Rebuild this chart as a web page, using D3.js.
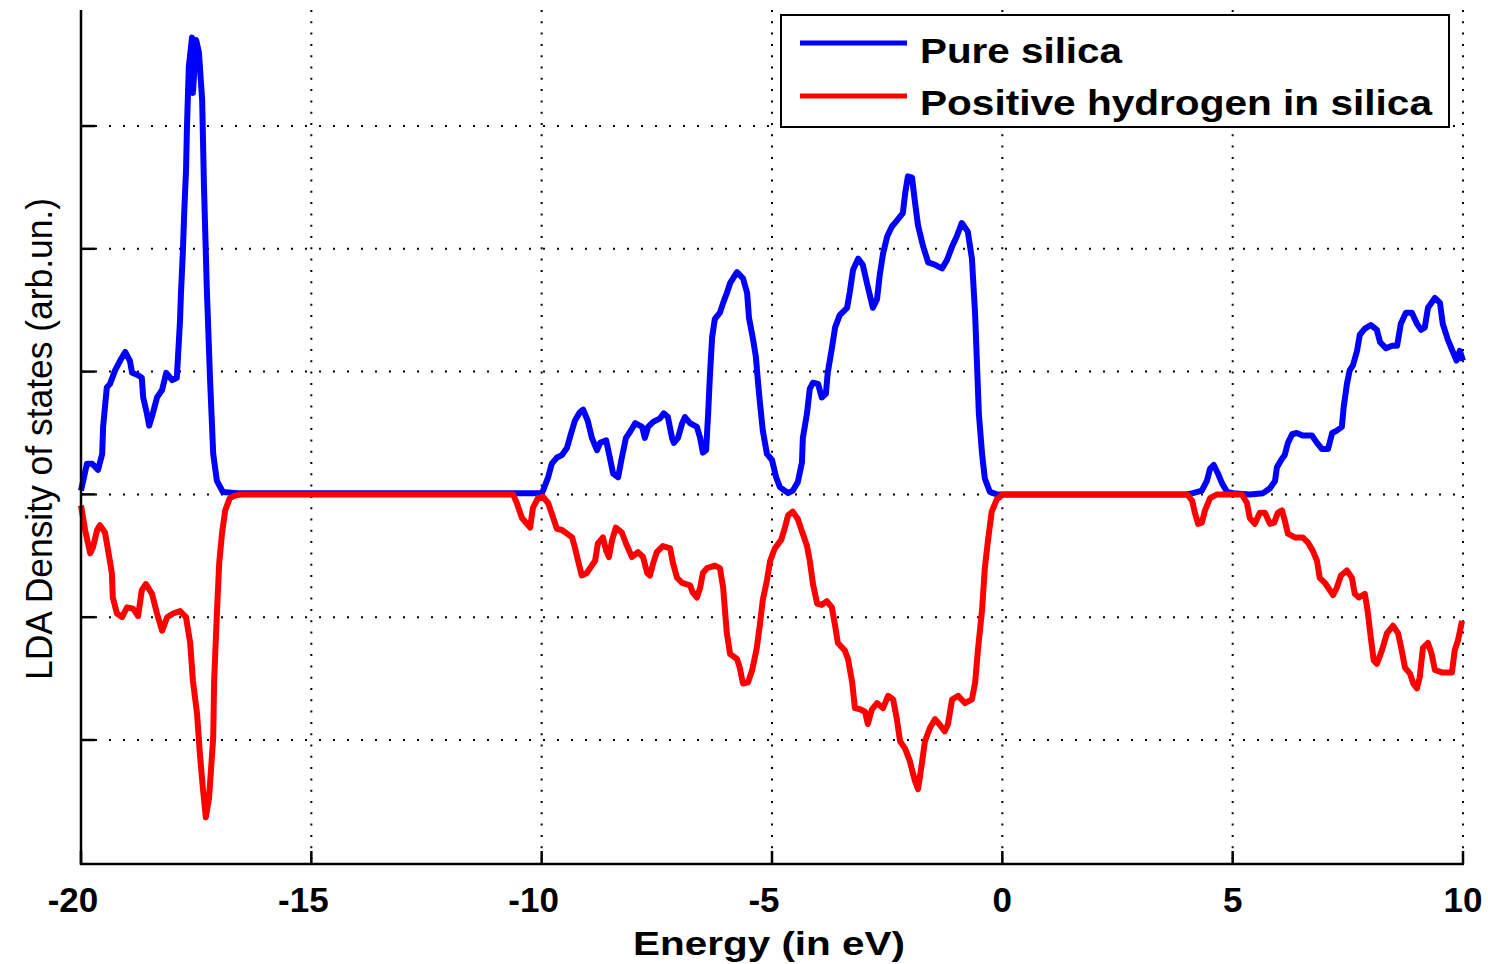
<!DOCTYPE html>
<html>
<head>
<meta charset="utf-8">
<script src="https://cdn.jsdelivr.net/npm/d3@7"></script>
<style>
  html, body { margin: 0; padding: 0; background: #fff; overflow: hidden; }
  text { font-family: "Liberation Sans", Arial, Helvetica, sans-serif; }
</style>
</head>
<body>
<svg id="chart" width="1488" height="964"></svg>
<script>
// Axis ticks / grid positions
const energyTicks = [-20, -15, -10, -5, 0, 5, 10];
const dosGrid = [-2, -1, 0, 1, 2, 3];

// Series labels and colours
const seriesNames = ["Pure silica", "Positive hydrogen in silica"];
const seriesColors = ["#0000ff", "#ff0000"];

// Density of states, pure silica: [energy (eV), DOS (arb. units)]
const pureSilica = [
  [-20.00,0.03],[-19.87,0.25],[-19.76,0.25],[-19.63,0.20],[-19.54,0.33],[-19.52,0.55],[-19.44,0.87],[-19.37,0.90],
  [-19.26,1.01],[-19.15,1.09],[-19.04,1.16],[-18.94,1.09],[-18.89,0.99],[-18.76,0.97],[-18.68,0.95],[-18.65,0.79],
  [-18.57,0.66],[-18.52,0.56],[-18.44,0.66],[-18.35,0.79],[-18.24,0.85],[-18.15,0.99],[-18.02,0.93],[-17.92,0.95],
  [-17.89,1.15],[-17.85,1.42],[-17.83,1.64],[-17.79,1.96],[-17.76,2.29],[-17.72,2.64],[-17.70,2.99],[-17.66,3.48],
  [-17.59,3.72],[-17.57,3.27],[-17.50,3.70],[-17.44,3.60],[-17.37,3.21],[-17.33,2.50],[-17.27,1.69],[-17.20,0.95],
  [-17.13,0.33],[-17.05,0.11],[-16.92,0.02],[-16.60,0.01],[-10.10,0.01],
  [-10.01,0.01],[-9.97,0.03],[-9.86,0.14],[-9.78,0.25],[-9.67,0.30],[-9.56,0.32],[-9.45,0.38],[-9.39,0.46],
  [-9.28,0.60],[-9.17,0.67],[-9.10,0.69],[-9.00,0.60],[-8.91,0.46],[-8.80,0.36],[-8.73,0.42],[-8.60,0.44],
  [-8.52,0.30],[-8.45,0.17],[-8.34,0.14],[-8.26,0.30],[-8.17,0.46],[-8.08,0.51],[-7.97,0.58],[-7.82,0.55],
  [-7.76,0.46],[-7.69,0.55],[-7.58,0.59],[-7.43,0.62],[-7.35,0.66],[-7.26,0.63],[-7.17,0.46],[-7.13,0.42],
  [-7.04,0.46],[-6.95,0.58],[-6.89,0.63],[-6.78,0.58],[-6.63,0.55],[-6.56,0.46],[-6.50,0.34],[-6.43,0.36],
  [-6.39,0.63],[-6.35,0.95],[-6.30,1.28],[-6.24,1.43],[-6.13,1.48],[-6.06,1.56],[-5.98,1.64],[-5.91,1.72],
  [-5.76,1.81],[-5.63,1.76],[-5.54,1.64],[-5.50,1.44],[-5.41,1.26],[-5.35,1.12],[-5.30,0.90],[-5.26,0.74],
  [-5.20,0.52],[-5.11,0.33],[-5.00,0.28],[-4.91,0.14],[-4.83,0.06],[-4.65,0.01],[-4.55,0.03],[-4.44,0.10],
  [-4.35,0.26],[-4.33,0.46],[-4.24,0.66],[-4.18,0.86],[-4.11,0.91],[-4.00,0.90],[-3.92,0.79],[-3.83,0.82],
  [-3.79,0.99],[-3.70,1.19],[-3.63,1.36],[-3.53,1.46],[-3.37,1.52],[-3.31,1.65],[-3.24,1.83],[-3.13,1.92],
  [-3.03,1.87],[-2.92,1.69],[-2.81,1.52],[-2.72,1.59],[-2.66,1.79],[-2.59,1.96],[-2.50,2.10],[-2.40,2.18],
  [-2.29,2.23],[-2.16,2.29],[-2.11,2.45],[-2.05,2.59],[-1.96,2.58],[-1.90,2.39],[-1.83,2.19],[-1.72,2.02],
  [-1.61,1.89],[-1.46,1.87],[-1.31,1.84],[-1.20,1.91],[-1.09,2.02],[-0.99,2.10],[-0.88,2.21],[-0.75,2.14],
  [-0.66,1.92],[-0.59,1.46],[-0.55,1.06],[-0.51,0.66],[-0.44,0.33],[-0.38,0.13],[-0.27,0.02],[-0.12,0.00],
  [4.00,0.00],[4.14,0.01],[4.33,0.03],[4.44,0.11],[4.51,0.21],[4.59,0.24],[4.68,0.17],[4.77,0.09],
  [4.88,0.02],[5.01,0.01],[5.37,0.00],[5.66,0.01],[5.81,0.05],[5.92,0.11],[5.96,0.22],[6.07,0.29],
  [6.13,0.32],[6.20,0.42],[6.29,0.49],[6.39,0.50],[6.52,0.48],[6.72,0.48],[6.83,0.42],[6.94,0.37],
  [7.07,0.37],[7.16,0.50],[7.26,0.52],[7.37,0.55],[7.41,0.71],[7.48,0.90],[7.54,1.01],[7.61,1.05],
  [7.70,1.17],[7.76,1.30],[7.87,1.35],[8.00,1.38],[8.13,1.34],[8.20,1.24],[8.33,1.19],[8.46,1.21],
  [8.57,1.21],[8.65,1.39],[8.76,1.48],[8.89,1.48],[9.00,1.39],[9.09,1.34],[9.17,1.36],[9.24,1.52],
  [9.39,1.60],[9.50,1.56],[9.56,1.39],[9.67,1.26],[9.77,1.17],[9.86,1.09],[9.93,1.17],[10.00,1.09]
];

// Density of states, positive hydrogen in silica (plotted downward): [energy (eV), DOS]
const hydrogenSilica = [
  [-20.00,-0.09],[-19.91,-0.29],[-19.80,-0.48],[-19.74,-0.43],[-19.65,-0.29],[-19.59,-0.25],[-19.48,-0.31],[-19.41,-0.46],
  [-19.33,-0.64],[-19.31,-0.84],[-19.22,-0.97],[-19.11,-1.00],[-19.00,-0.92],[-18.87,-0.93],[-18.76,-0.99],[-18.68,-0.78],
  [-18.59,-0.73],[-18.46,-0.81],[-18.35,-0.97],[-18.24,-1.11],[-18.13,-1.00],[-18.00,-0.97],[-17.85,-0.95],[-17.72,-1.00],
  [-17.63,-1.21],[-17.57,-1.52],[-17.48,-1.79],[-17.42,-2.11],[-17.35,-2.41],[-17.29,-2.63],[-17.22,-2.47],[-17.13,-1.98],
  [-17.11,-1.52],[-17.05,-0.97],[-17.00,-0.56],[-16.94,-0.32],[-16.87,-0.13],[-16.77,-0.03],[-16.66,-0.01],[-16.50,0.00],
  [-10.62,0.00],
  [-10.54,-0.07],[-10.43,-0.19],[-10.32,-0.24],[-10.25,-0.27],[-10.19,-0.11],[-10.08,-0.03],[-9.97,-0.02],[-9.86,-0.07],
  [-9.75,-0.19],[-9.67,-0.28],[-9.56,-0.29],[-9.45,-0.32],[-9.34,-0.35],[-9.28,-0.43],[-9.21,-0.54],[-9.13,-0.66],
  [-9.02,-0.64],[-8.95,-0.60],[-8.84,-0.54],[-8.78,-0.40],[-8.67,-0.35],[-8.60,-0.46],[-8.54,-0.51],[-8.47,-0.37],
  [-8.39,-0.27],[-8.26,-0.31],[-8.17,-0.40],[-8.04,-0.51],[-7.91,-0.47],[-7.80,-0.51],[-7.71,-0.64],[-7.65,-0.66],
  [-7.58,-0.56],[-7.50,-0.47],[-7.37,-0.42],[-7.21,-0.44],[-7.15,-0.56],[-7.06,-0.68],[-6.95,-0.72],[-6.78,-0.74],
  [-6.72,-0.80],[-6.63,-0.84],[-6.56,-0.76],[-6.50,-0.64],[-6.41,-0.60],[-6.24,-0.58],[-6.13,-0.60],[-6.06,-0.76],
  [-6.02,-0.95],[-5.98,-1.13],[-5.91,-1.30],[-5.76,-1.34],[-5.70,-1.41],[-5.63,-1.54],[-5.52,-1.53],[-5.43,-1.43],
  [-5.33,-1.25],[-5.26,-1.05],[-5.20,-0.86],[-5.11,-0.70],[-5.04,-0.54],[-4.94,-0.44],[-4.80,-0.37],[-4.72,-0.27],
  [-4.65,-0.17],[-4.55,-0.14],[-4.44,-0.20],[-4.35,-0.30],[-4.24,-0.42],[-4.18,-0.54],[-4.11,-0.73],[-4.02,-0.89],
  [-3.92,-0.90],[-3.81,-0.87],[-3.70,-0.92],[-3.63,-1.07],[-3.57,-1.21],[-3.42,-1.27],[-3.35,-1.34],[-3.26,-1.53],
  [-3.20,-1.74],[-3.09,-1.75],[-2.98,-1.77],[-2.92,-1.87],[-2.83,-1.75],[-2.72,-1.70],[-2.59,-1.74],[-2.48,-1.64],
  [-2.37,-1.67],[-2.29,-1.83],[-2.22,-2.01],[-2.11,-2.07],[-2.01,-2.17],[-1.90,-2.33],[-1.83,-2.40],[-1.75,-2.20],
  [-1.68,-2.01],[-1.57,-1.90],[-1.46,-1.83],[-1.35,-1.88],[-1.25,-1.93],[-1.18,-1.87],[-1.09,-1.67],[-0.96,-1.64],
  [-0.81,-1.70],[-0.66,-1.67],[-0.59,-1.53],[-0.53,-1.27],[-0.44,-0.94],[-0.38,-0.60],[-0.31,-0.37],[-0.23,-0.14],
  [-0.12,-0.04],[0.01,0.00],[4.01,0.00],
  [4.12,-0.05],[4.18,-0.15],[4.25,-0.24],[4.33,-0.23],[4.40,-0.13],[4.51,-0.03],[4.66,0.00],[5.20,0.00],
  [5.31,-0.07],[5.37,-0.19],[5.48,-0.24],[5.59,-0.15],[5.70,-0.15],[5.81,-0.24],[5.90,-0.23],[5.98,-0.15],
  [6.07,-0.13],[6.13,-0.21],[6.20,-0.32],[6.35,-0.35],[6.52,-0.35],[6.63,-0.39],[6.74,-0.46],[6.83,-0.54],
  [6.89,-0.68],[7.00,-0.72],[7.11,-0.78],[7.18,-0.82],[7.26,-0.76],[7.35,-0.66],[7.48,-0.62],[7.59,-0.68],
  [7.65,-0.81],[7.74,-0.84],[7.87,-0.81],[7.93,-0.95],[8.00,-1.17],[8.06,-1.35],[8.13,-1.38],[8.24,-1.27],
  [8.35,-1.13],[8.48,-1.07],[8.59,-1.13],[8.67,-1.27],[8.74,-1.41],[8.85,-1.46],[8.92,-1.54],[9.00,-1.58],
  [9.06,-1.49],[9.13,-1.25],[9.24,-1.21],[9.32,-1.30],[9.39,-1.43],[9.54,-1.45],[9.76,-1.45],[9.82,-1.27],
  [9.89,-1.19],[9.98,-1.03]
];

const svg = d3.select("#chart");

// Plot frame
const plot = { left: 81, right: 1463, top: 10, bottom: 864 };

const x = d3.scaleLinear().domain([-20, 10]).range([plot.left, plot.right]);
const y = d3.scaleLinear().domain([-3.01, 3.945]).range([plot.bottom, plot.top]);

// Dotted grid
const grid = svg.append("g").attr("class", "grid");
grid.selectAll("line.h").data(dosGrid).join("line")
  .attr("class", "h")
  .attr("x1", plot.left).attr("x2", plot.right)
  .attr("y1", d => y(d)).attr("y2", d => y(d))
  .attr("stroke", "#000").attr("stroke-width", 2)
  .attr("stroke-dasharray", "2,12");
grid.selectAll("line.v").data(energyTicks.filter(d => d !== -20)).join("line")
  .attr("class", "v")
  .attr("x1", d => x(d)).attr("x2", d => x(d))
  .attr("y1", plot.top).attr("y2", plot.bottom)
  .attr("stroke", "#000").attr("stroke-width", 2)
  .attr("stroke-dasharray", "2,9.3");

// Curves
const line = d3.line().x(d => x(d[0])).y(d => y(d[1])).curve(d3.curveLinear);
[pureSilica, hydrogenSilica].forEach((series, i) => {
  svg.append("path")
    .datum(series)
    .attr("d", line)
    .attr("fill", "none")
    .attr("stroke", seriesColors[i])
    .attr("stroke-width", 6)
    .attr("stroke-linejoin", "round")
    .attr("stroke-linecap", "butt");
});

// Axes (left and bottom only, ticks pointing inward)
const axes = svg.append("g").attr("class", "axes");
axes.append("line")
  .attr("x1", plot.left).attr("x2", plot.left)
  .attr("y1", plot.top).attr("y2", plot.bottom + 1)
  .attr("stroke", "#000").attr("stroke-width", 2.5);
axes.append("line")
  .attr("x1", plot.left - 1).attr("x2", plot.right + 1)
  .attr("y1", plot.bottom).attr("y2", plot.bottom)
  .attr("stroke", "#000").attr("stroke-width", 2.5);
axes.selectAll("line.yt").data(dosGrid).join("line")
  .attr("class", "yt")
  .attr("x1", plot.left).attr("x2", plot.left + 14)
  .attr("y1", d => y(d)).attr("y2", d => y(d))
  .attr("stroke", "#000").attr("stroke-width", 2.5);
axes.selectAll("line.xt").data(energyTicks).join("line")
  .attr("class", "xt")
  .attr("x1", d => x(d)).attr("x2", d => x(d))
  .attr("y1", plot.bottom).attr("y2", plot.bottom - 13)
  .attr("stroke", "#000").attr("stroke-width", 2.5);

// Tick labels: digits centred under the tick, minus sign hanging left
axes.selectAll("text.xl").data(energyTicks).join("text")
  .attr("class", "xl")
  .attr("x", d => x(d))
  .attr("dx", d => d < 0 ? -8 : 0)
  .attr("y", 912)
  .attr("text-anchor", "middle")
  .attr("font-size", 35)
  .attr("font-weight", "bold")
  .attr("fill", "#000")
  .text(d => String(d));

// Axis titles
svg.append("text")
  .attr("x", 769).attr("y", 955)
  .attr("text-anchor", "middle")
  .attr("font-size", 33)
  .attr("font-weight", "bold")
  .attr("textLength", 272)
  .attr("lengthAdjust", "spacingAndGlyphs")
  .text("Energy (in eV)");

svg.append("text")
  .attr("transform", "translate(52,439) rotate(-90)")
  .attr("text-anchor", "middle")
  .attr("font-size", 37)
  .attr("textLength", 482)
  .attr("lengthAdjust", "spacingAndGlyphs")
  .text("LDA Density of states (arb.un.)");

// Legend
const legend = svg.append("g").attr("class", "legend");
legend.append("rect")
  .attr("x", 781).attr("y", 15).attr("width", 668).attr("height", 112)
  .attr("fill", "#fff").attr("stroke", "#000").attr("stroke-width", 2);
const legendRows = [43, 96];
const legendBaselines = [63, 115];
const legendWidths = [202, 512];
seriesNames.forEach((name, i) => {
  legend.append("line")
    .attr("x1", 800).attr("x2", 907)
    .attr("y1", legendRows[i]).attr("y2", legendRows[i])
    .attr("stroke", seriesColors[i]).attr("stroke-width", 5);
  legend.append("text")
    .attr("x", 920).attr("y", legendBaselines[i])
    .attr("font-size", 35)
    .attr("font-weight", "bold")
    .attr("textLength", legendWidths[i])
    .attr("lengthAdjust", "spacingAndGlyphs")
    .text(name);
});
</script>
</body>
</html>
